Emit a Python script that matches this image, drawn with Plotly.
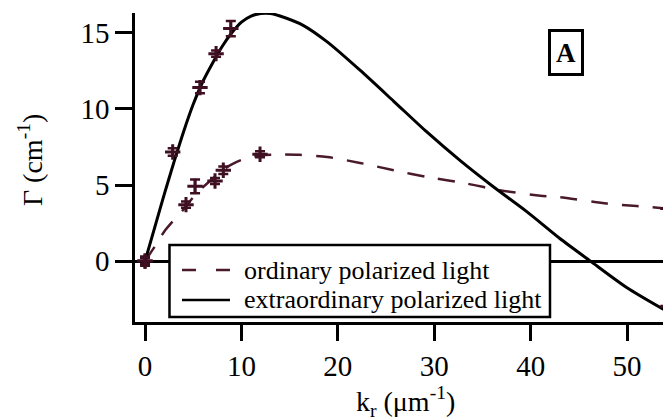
import plotly.graph_objects as go

# ---- data ----
# extraordinary polarized light: fitted curve (solid)
ext_curve_x = [0, 1, 2, 3, 4, 5, 6, 7, 8, 9, 10, 11, 12, 13, 14, 16.4, 18.9, 22.3,
               25.8, 29.2, 32.7, 36.1, 39.6, 43.0, 46.2, 50.0, 54.25]
ext_curve_y = [0, 2.2, 4.4, 6.5, 8.5, 10.3, 11.8, 13.0, 14.1, 15.0, 15.7, 16.1, 16.27,
               16.27, 16.1, 15.49, 14.4, 12.54, 10.5, 8.5, 6.6, 4.9, 3.25, 1.5,
               0.0, -1.75, -3.34]
# ordinary polarized light: fitted curve (dashed)
ord_curve_x = [0, 1, 2, 3, 4, 5, 6, 7, 8, 9, 10, 12, 14, 16, 18.9, 22.3, 25.8, 29.2,
               33.4, 36.8, 41.0, 43.0, 47.9, 51.0, 54.25]
ord_curve_y = [0, 0.95, 1.95, 2.7, 3.4, 4.2, 4.85, 5.4, 5.95, 6.35, 6.65, 6.95, 7.0,
               6.98, 6.84, 6.45, 5.97, 5.53, 5.09, 4.65, 4.3, 4.2, 3.78, 3.62, 3.45]

# measured points with error bars
ext_pts_x = [0, 2.87, 5.7, 7.37, 8.9, 54.25]
ext_pts_y = [0, 7.17, 11.4, 13.63, 15.28, -2.97]
ext_pts_err = [0.3, 0.25, 0.38, 0.2, 0.5, 0.4]

ord_pts_x = [0, 4.25, 5.19, 7.26, 8.12, 11.93, 54.25]
ord_pts_y = [0, 3.71, 4.91, 5.26, 5.97, 7.02, 3.45]
ord_pts_err = [0.2, 0.2, 0.45, 0.2, 0.25, 0.2, 0.2]

x_ticks = [0, 10, 20, 30, 40, 50]
y_ticks = [0, 5, 10, 15]

legend_labels = ["ordinary polarized light", "extraordinary polarized light"]

FONT = "Liberation Serif, Times New Roman, serif"
MAROON = "#3f0f22"
DASH_COLOR = "#4a1a2c"

fig = go.Figure()

fig.add_trace(go.Scatter(
    x=ord_curve_x, y=ord_curve_y, mode="lines", showlegend=False,
    line=dict(color=DASH_COLOR, width=2.5, dash="17px,14px", shape="spline", smoothing=0.7),
    name=legend_labels[0]))
fig.add_trace(go.Scatter(
    x=ext_curve_x, y=ext_curve_y, mode="lines", showlegend=False,
    line=dict(color="black", width=3, shape="spline", smoothing=0.7),
    name=legend_labels[1]))

for px, py, pe in [(ord_pts_x, ord_pts_y, ord_pts_err), (ext_pts_x, ext_pts_y, ext_pts_err)]:
    fig.add_trace(go.Scatter(
        x=px, y=py, mode="markers", showlegend=False, cliponaxis=False,
        marker=dict(symbol="cross-thin", size=11, color=MAROON,
                    line=dict(color=MAROON, width=3)),
        error_y=dict(type="data", array=pe, visible=True, color=MAROON,
                     thickness=2.5, width=5)))

# legend box (drawn by hand for exact proportions)
fig.add_shape(type="rect", xref="paper", yref="paper", layer="above",
              x0=0.0647, x1=0.7786, y0=0.0162, y1=0.2492,
              line=dict(color="black", width=2.5), fillcolor="white")
legend_rows_y = [0.168, 0.0712]
legend_styles = [dict(color=DASH_COLOR, width=2.5, dash="14px,20px"),
                 dict(color="black", width=2.5)]
for label, ry, st in zip(legend_labels, legend_rows_y, legend_styles):
    fig.add_shape(type="line", xref="paper", yref="paper", layer="above",
                  x0=0.0882, x1=0.1782, y0=ry, y1=ry, line=st)
    fig.add_annotation(text=label, xref="paper", yref="paper",
                       x=0.2008, y=ry, xanchor="left", yanchor="middle",
                       showarrow=False, font=dict(family=FONT, size=26, color="black"))

# "A" panel label in a box
fig.add_annotation(text="<b>A</b>", xref="paper", yref="paper",
                   x=0.8086, y=0.872, xanchor="center", yanchor="middle",
                   showarrow=False, width=30, height=41, borderpad=0,
                   bordercolor="black", borderwidth=3, bgcolor="white",
                   font=dict(family=FONT, size=27, color="black"))

# axis titles
fig.add_annotation(text="k<sub>r</sub> (μm<sup>-1</sup>)", xref="paper", yref="paper",
                   x=0.508, y=-0.258, xanchor="center", yanchor="middle",
                   showarrow=False, font=dict(family=FONT, size=28, color="black"))
fig.add_annotation(text="Γ (cm<sup>-1</sup>)", xref="paper", yref="paper",
                   x=-0.197, y=0.524, xanchor="center", yanchor="middle",
                   textangle=-90, showarrow=False,
                   font=dict(family=FONT, size=28, color="black"))

fig.update_layout(
    width=663, height=412,
    margin=dict(l=127, r=3, t=5, b=98),
    paper_bgcolor="white", plot_bgcolor="white",
    font=dict(family=FONT, size=28, color="black"),
    showlegend=False,
)
fig.update_xaxes(
    range=[-1.04, 54.25], tickmode="array", tickvals=x_ticks,
    ticks="outside", ticklen=16, tickwidth=2.5, tickcolor="black",
    showline=True, linecolor="black", linewidth=2.5,
    showgrid=False, zeroline=False,
    tickfont=dict(family=FONT, size=29),
)
fig.update_yaxes(
    range=[-4.0, 16.3], tickmode="array", tickvals=y_ticks,
    ticks="outside", ticklen=17, tickwidth=2.5, tickcolor="black",
    showline=True, linecolor="black", linewidth=2.5,
    showgrid=False, zeroline=True, zerolinecolor="black", zerolinewidth=2.5,
    tickfont=dict(family=FONT, size=29), ticklabelstandoff=0,
)

fig.write_html("out.html")
